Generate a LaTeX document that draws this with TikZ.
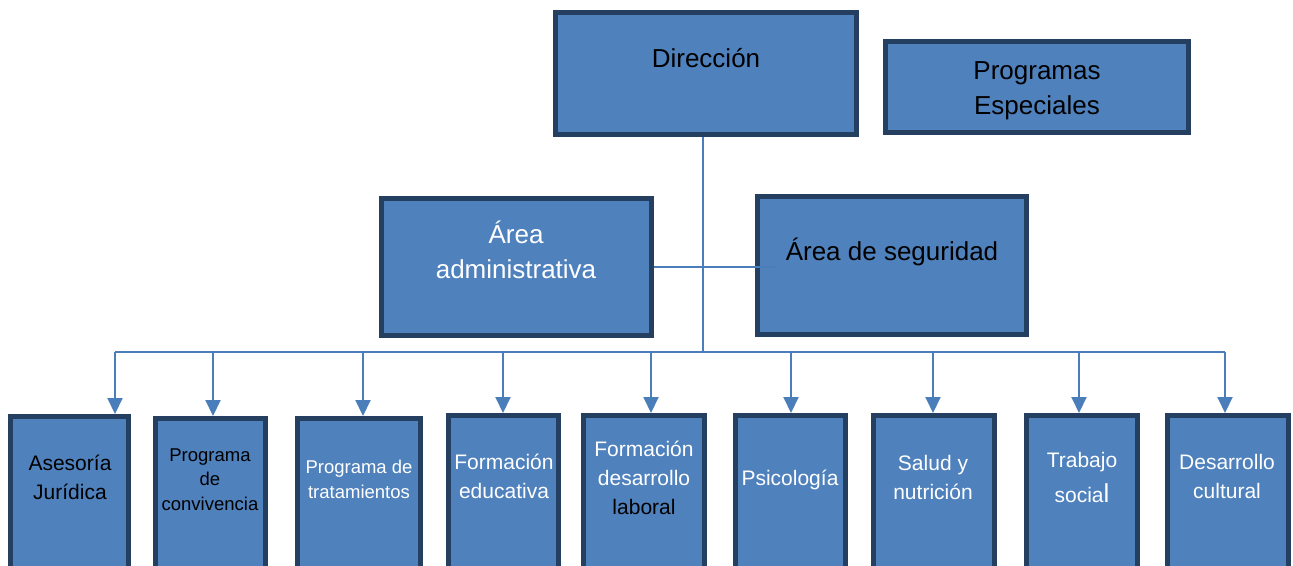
\documentclass[tikz,border=0pt]{standalone}
\usepackage{fontspec}
\setmainfont{Liberation Sans}
\usetikzlibrary{arrows.meta}
\definecolor{boxfill}{HTML}{4F81BD}
\definecolor{boxline}{HTML}{243F60}
\definecolor{conn}{HTML}{4A7EBB}
\tikzset{
  orgbox/.style={draw=boxline, fill=boxfill, line width=5pt, inner sep=0pt, rectangle},
  big/.style={anchor=base, align=center, inner sep=0pt, font=\fontsize{26}{35}\selectfont},
  mid/.style={anchor=base, align=center, inner sep=0pt, font=\fontsize{21}{29}\selectfont},
  small/.style={anchor=base, align=center, inner sep=0pt, font=\fontsize{18.5}{24.5}\selectfont},
  link/.style={draw=conn, line width=2pt},
  arrowlink/.style={link, -{Triangle[width=15pt,length=16pt]}}
}
\begin{document}
\begin{tikzpicture}[x=1pt,y=-1pt]
\clip (0,0) rectangle (1293,565);
\fill[white] (0,0) rectangle (1293,565);
% top boxes
\node[orgbox, minimum width=301pt, minimum height=122pt] (dir) at (706,73.5) {};
\node[orgbox, minimum width=303pt, minimum height=91pt] (pe) at (1037,87) {};
\node[orgbox, minimum width=270pt, minimum height=137pt] (aa) at (516.5,267) {};
\node[orgbox, minimum width=269pt, minimum height=138pt] (as) at (892,265.5) {};
% bottom boxes
\node[orgbox, minimum width=118pt, minimum height=183.5pt] (b1) at (69.5,508.25) {};
\node[orgbox, minimum width=110pt, minimum height=181.5pt] (b2) at (210.5,509.25) {};
\node[orgbox, minimum width=123pt, minimum height=181.5pt] (b3) at (359,509.25) {};
\node[orgbox, minimum width=110pt, minimum height=184.5pt] (b4) at (503.5,507.75) {};
\node[orgbox, minimum width=121pt, minimum height=184.5pt] (b5) at (644,507.75) {};
\node[orgbox, minimum width=110pt, minimum height=184.5pt] (b6) at (790.5,507.75) {};
\node[orgbox, minimum width=121pt, minimum height=184.5pt] (b7) at (934,507.75) {};
\node[orgbox, minimum width=111pt, minimum height=184.5pt] (b8) at (1082,507.75) {};
\node[orgbox, minimum width=121pt, minimum height=184.5pt] (b9) at (1228,507.75) {};
% texts (anchor = baseline of the last line)
\node[big, text=black] (tdir) at (706,67) {Dirección};
\node[big, text=black] (tpe) at (1037,114) {Programas\\Especiales};
\node[big, text=white] (taa) at (516,278) {Área\\administrativa};
\node[big, text=black] (tas) at (892,260) {Área de seguridad};
\node[mid, text=black] (t1) at (70,499) {Asesoría\\Jurídica};
\node[small, text=black] (t2) at (210,510) {Programa\\de\\convivencia};
\node[small, text=white] (t3) at (359,498) {Programa de\\tratamientos};
\node[mid, text=white] (t4) at (504,498) {Formación\\educativa};
\node[mid, text=white] (t5) at (644,514) {Formación\\desarrollo\\\textcolor{black}{laboral}};
\node[mid, text=white] (t6) at (790,485) {Psicología};
\node[mid, text=white] (t7) at (933,499) {Salud y\\nutrición};
\node[mid, text=white] (t8) at (1082,502) {Trabajo\\[6pt]socia{\fontsize{26}{29}\selectfont l}};
\node[mid, text=white] (t9) at (1227,498) {Desarrollo\\cultural};
% connectors
\coordinate (hub) at (703,352);
\coordinate (asend) at (777,267);
\coordinate (d1) at (115,352);
\coordinate (d2) at (213,352);
\coordinate (d3) at (363,352);
\coordinate (d4) at (503,352);
\coordinate (d5) at (651,352);
\coordinate (d6) at (791,352);
\coordinate (d7) at (933,352);
\coordinate (d8) at (1079,352);
\coordinate (d9) at (1225,352);
\draw[link] (dir.south -| hub) -- (hub);
\draw[link] (aa.east) -- (asend);
\draw[link] (d1) -- (d9);
\draw[arrowlink] (d1) -- (d1 |- b1.north);
\draw[arrowlink] (d2) -- (d2 |- b2.north);
\draw[arrowlink] (d3) -- (d3 |- b3.north);
\draw[arrowlink] (d4) -- (d4 |- b4.north);
\draw[arrowlink] (d5) -- (d5 |- b5.north);
\draw[arrowlink] (d6) -- (d6 |- b6.north);
\draw[arrowlink] (d7) -- (d7 |- b7.north);
\draw[arrowlink] (d8) -- (d8 |- b8.north);
\draw[arrowlink] (d9) -- (d9 |- b9.north);
\end{tikzpicture}
\end{document}
